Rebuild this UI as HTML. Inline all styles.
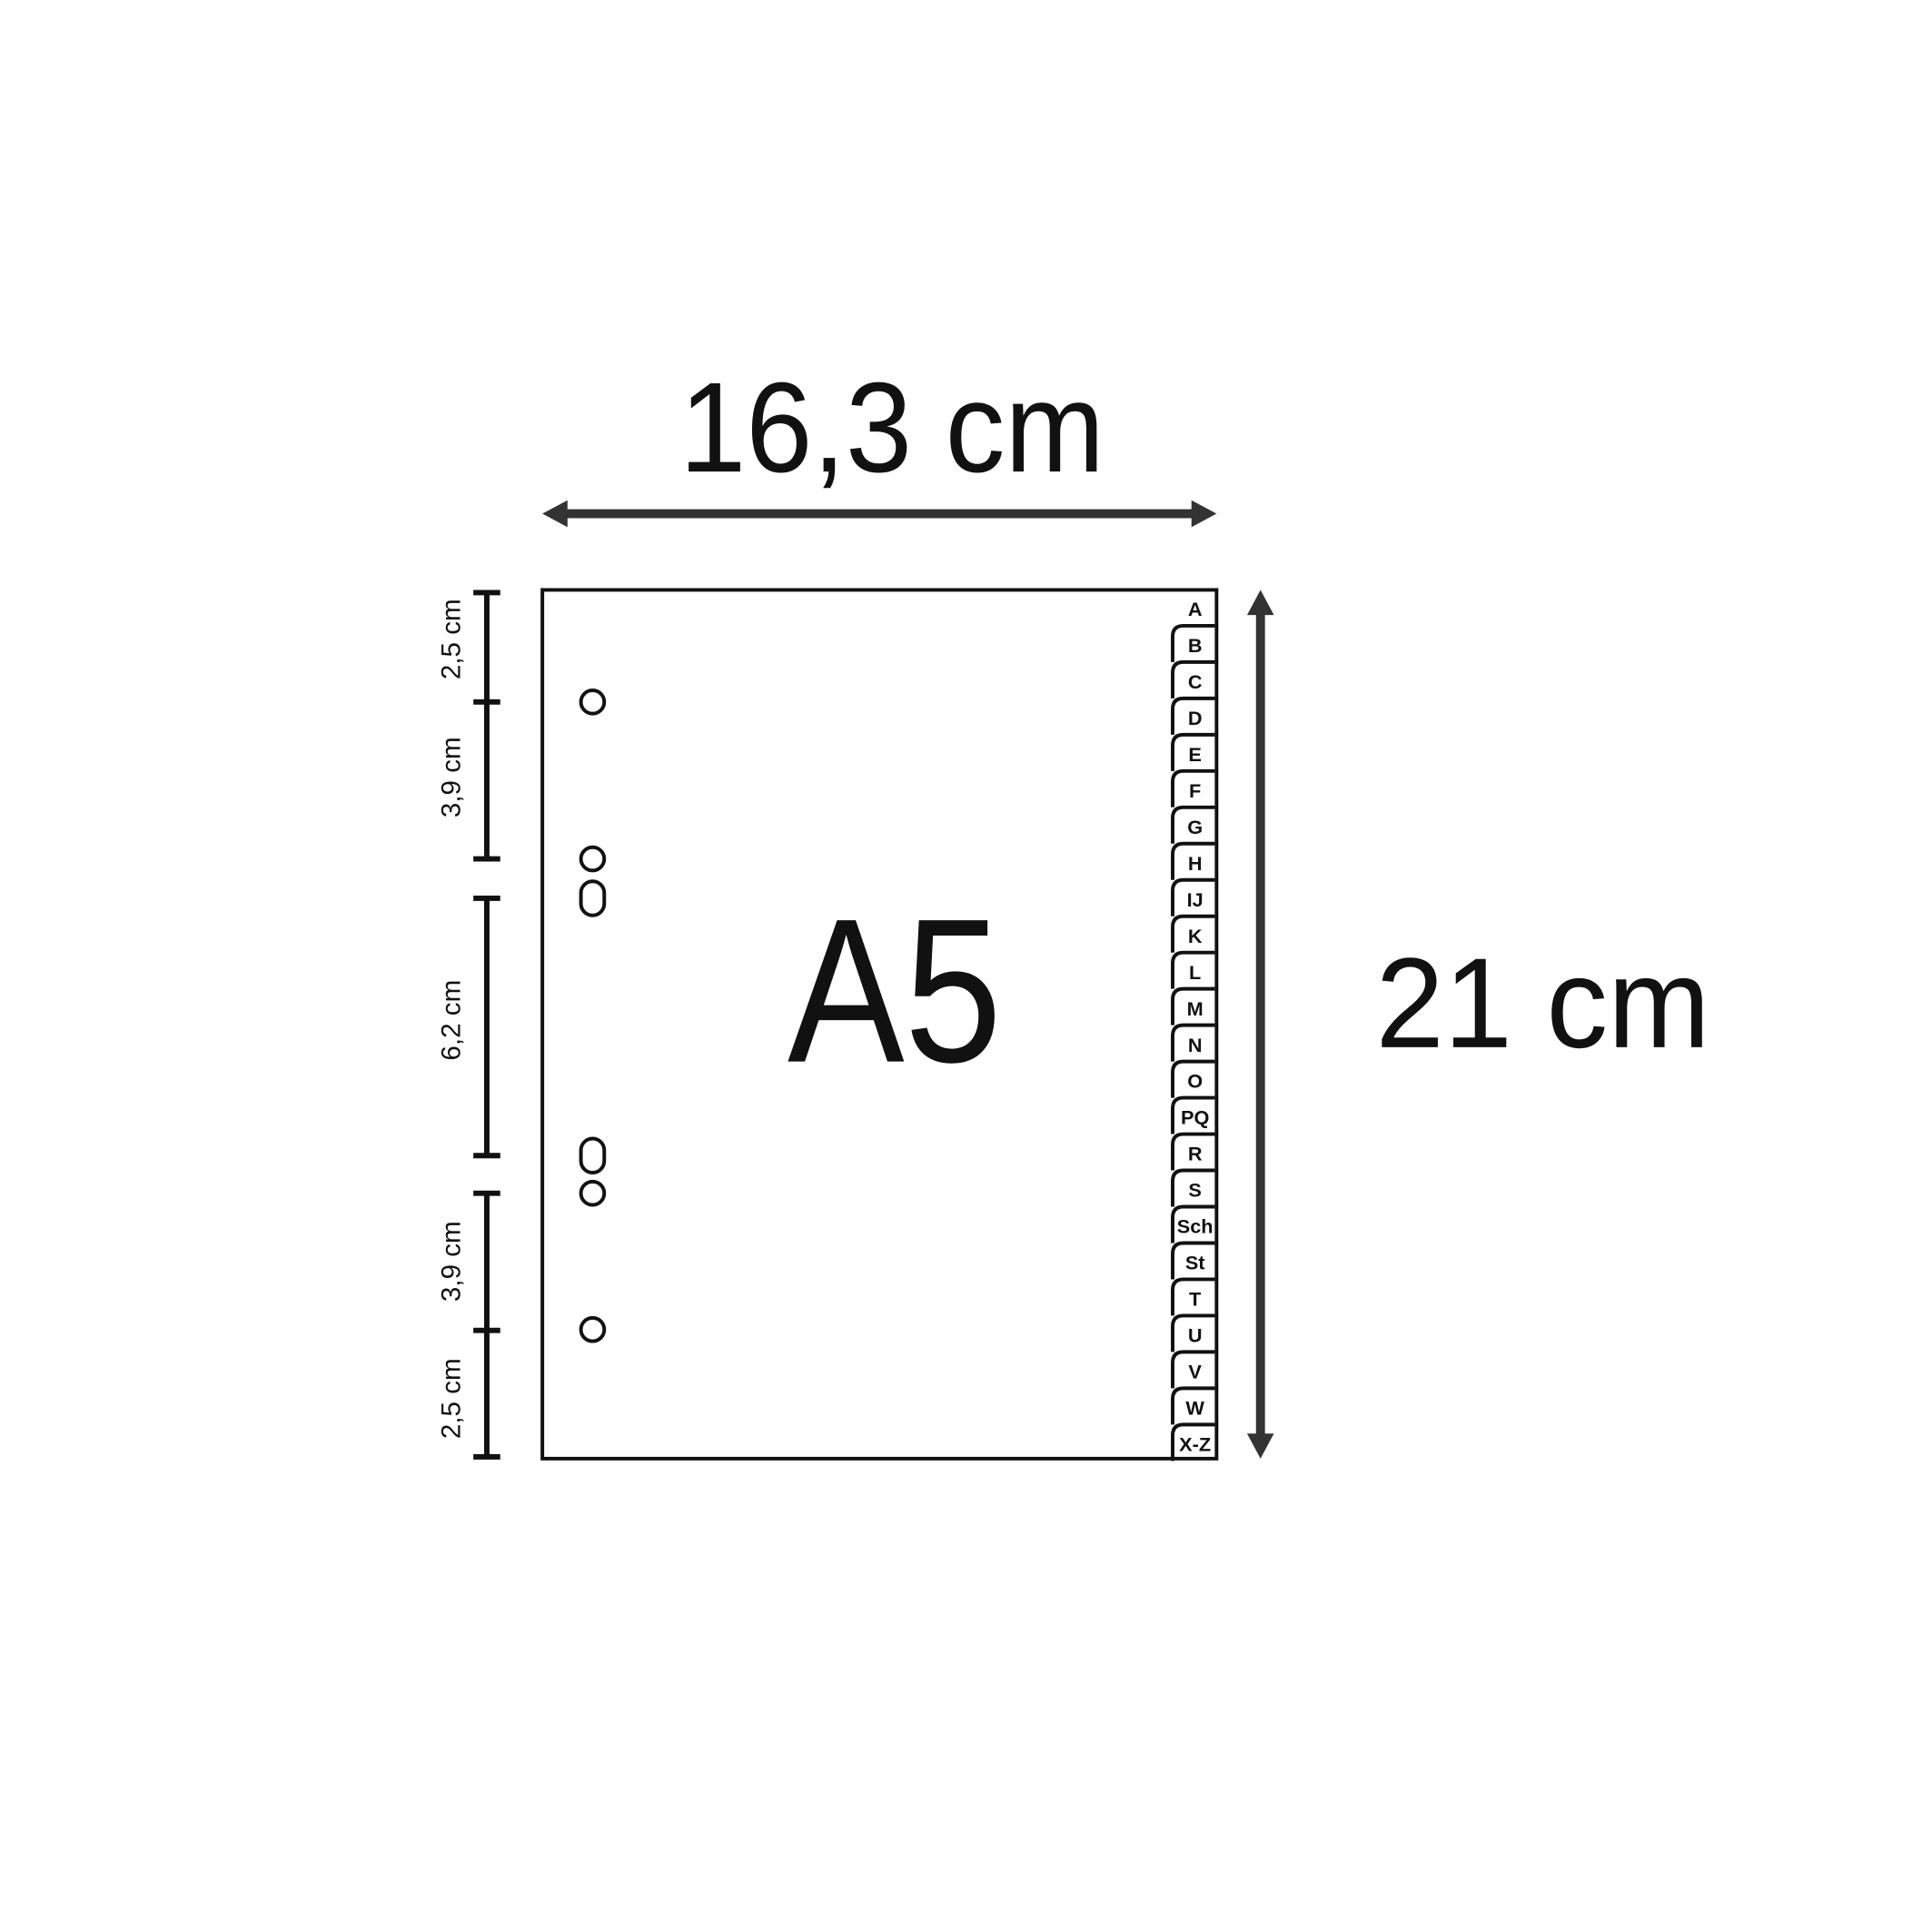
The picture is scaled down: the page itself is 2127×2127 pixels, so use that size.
<!DOCTYPE html>
<html><head><meta charset="utf-8"><style>html,body{margin:0;padding:0;background:#fff}svg{display:block}</style></head>
<body>
<svg id="c" width="2127" height="2127" viewBox="0 0 2127 2127" xmlns="http://www.w3.org/2000/svg" font-family="Liberation Sans, sans-serif">
<g transform="scale(0.987)">
<text x="995" y="526" font-size="143" text-anchor="middle" textLength="474" lengthAdjust="spacingAndGlyphs" fill="#111">16,3 cm</text>
<g fill="#333">
<rect x="630" y="568" width="702" height="10"/>
<polygon points="605,573 633,558 633,588"/>
<polygon points="1357,573 1329,558 1329,588"/>
</g>
<rect x="605" y="658" width="752" height="969" fill="none" stroke="#111" stroke-width="4"/>
<text x="998" y="1184" font-size="229" text-anchor="middle" textLength="239" lengthAdjust="spacingAndGlyphs" fill="#111">A5</text>
<g fill="#333">
<rect x="1401" y="680" width="10" height="925"/>
<polygon points="1406,658 1391,686 1421,686"/>
<polygon points="1406,1627 1391,1599 1421,1599"/>
</g>
<text x="1721" y="1168" font-size="143" text-anchor="middle" textLength="373" lengthAdjust="spacingAndGlyphs" fill="#111">21 cm</text>
<g id="dims" stroke="#111" stroke-width="6" fill="none">
<line x1="543" y1="661" x2="543" y2="958"/>
<line x1="543" y1="1002" x2="543" y2="1289"/>
<line x1="543" y1="1331" x2="543" y2="1625"/>
<line x1="528" y1="661" x2="558" y2="661"/>
<line x1="528" y1="783" x2="558" y2="783"/>
<line x1="528" y1="958" x2="558" y2="958"/>
<line x1="528" y1="1002" x2="558" y2="1002"/>
<line x1="528" y1="1289" x2="558" y2="1289"/>
<line x1="528" y1="1331" x2="558" y2="1331"/>
<line x1="528" y1="1484" x2="558" y2="1484"/>
<line x1="528" y1="1625" x2="558" y2="1625"/>
</g>
<g font-size="30" fill="#111" text-anchor="middle">
<text transform="translate(513,713) rotate(-90)">2,5 cm</text>
<text transform="translate(513,867) rotate(-90)">3,9 cm</text>
<text transform="translate(513,1138) rotate(-90)">6,2 cm</text>
<text transform="translate(513,1407) rotate(-90)">3,9 cm</text>
<text transform="translate(513,1560) rotate(-90)">2,5 cm</text>
</g>
<g fill="none" stroke="#111" stroke-width="4">
<circle cx="661" cy="783" r="13"/>
<circle cx="661" cy="958" r="13"/>
<rect x="648" y="983" width="26" height="38" rx="13"/>
<rect x="648" y="1270" width="26" height="38" rx="13"/>
<circle cx="661" cy="1331" r="13"/>
<circle cx="661" cy="1483" r="13"/>
</g>
<g id="tabs"></g>
</g>
</svg>
<script>
const tabLabels=["A","B","C","D","E","F","G","H","IJ","K","L","M","N","O","PQ","R","S","Sch","St","T","U","V","W","X-Z"];
const g=document.getElementById('tabs');
const NS="http://www.w3.org/2000/svg";
const top0=698, step=40.5, L=1308, R=1355, r=12;
for(let k=0;k<tabLabels.length;k++){
  if(k>0){
    const y0=top0+(k-1)*step;
    const p=document.createElementNS(NS,'path');
    p.setAttribute('d',`M${R} ${y0} L${L+r} ${y0} Q${L} ${y0} ${L} ${y0+r} L${L} ${y0+step}`);
    p.setAttribute('fill','none');p.setAttribute('stroke','#111');p.setAttribute('stroke-width','4');
    
    
    g.appendChild(p);
  }
  const t=document.createElementNS(NS,'text');
  t.setAttribute('x',1333);t.setAttribute('y',679+k*step+8);
  t.setAttribute('text-anchor','middle');t.setAttribute('font-size','22');t.setAttribute('font-weight','bold');
  t.setAttribute('font-family','Liberation Sans Narrow, Liberation Sans, sans-serif');t.setAttribute('fill','#111');
  
  
  t.textContent=tabLabels[k];
  g.appendChild(t);
}
</script>
</body></html>
